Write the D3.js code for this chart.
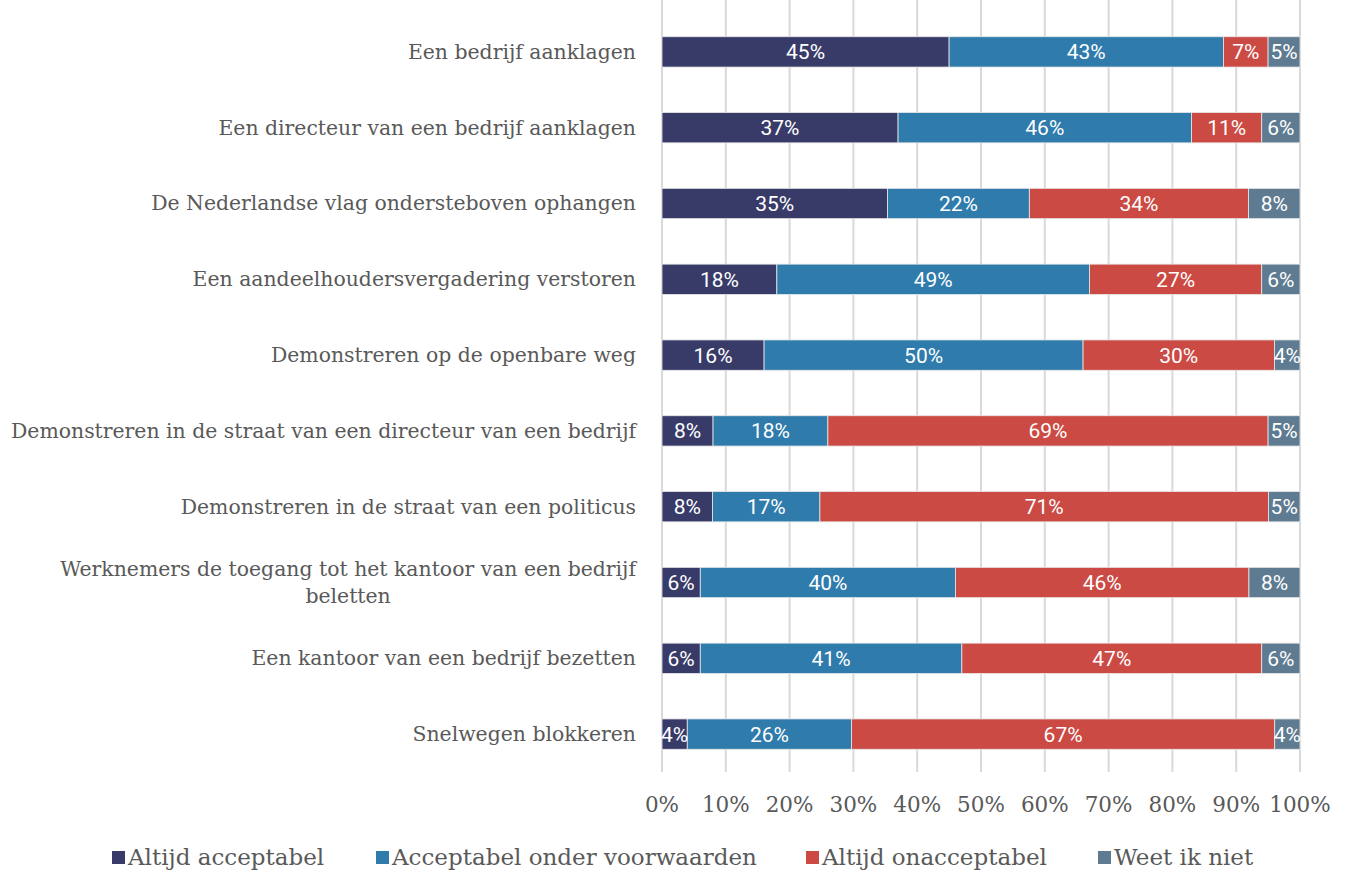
<!DOCTYPE html>
<html>
<head>
<meta charset="utf-8">
<script src="https://cdn.jsdelivr.net/npm/d3@7"></script>
<style>
  body { margin: 0; background: #fff; }
  svg { display: block; }
</style>
</head>
<body>
<svg class="chart"></svg>
<script>
var categories = [
    "Een bedrijf aanklagen",
    "Een directeur van een bedrijf aanklagen",
    "De Nederlandse vlag ondersteboven ophangen",
    "Een aandeelhoudersvergadering verstoren",
    "Demonstreren op de openbare weg",
    "Demonstreren in de straat van een directeur van een bedrijf",
    "Demonstreren in de straat van een politicus",
    "Werknemers de toegang tot het kantoor van een bedrijf|beletten",
    "Een kantoor van een bedrijf bezetten",
    "Snelwegen blokkeren"
];
var seriesNames = ["Altijd acceptabel", "Acceptabel onder voorwaarden", "Altijd onacceptabel", "Weet ik niet"];
var altijdAcceptabel = [45, 37, 35, 18, 16, 8, 8, 6, 6, 4];
var onderVoorwaarden = [43, 46, 22, 49, 50, 18, 17, 40, 41, 26];
var altijdOnacceptabel = [7, 11, 34, 27, 30, 69, 71, 46, 47, 67];
var weetIkNiet = [5, 6, 8, 6, 4, 5, 5, 8, 6, 4];
var tickValues = [0, 0.1, 0.2, 0.3, 0.4, 0.5, 0.6, 0.7, 0.8, 0.9, 1];
var colors = ["#383b68", "#2e7bac", "#cb4a43", "#5e7b91"];

(function show() {
    'use strict';
    var W = 1349, H = 870;
    var x0 = 662, x1 = 1300, yTop = 14, yBot = 772;

    var svg = d3.select(".chart").attr("width", W).attr("height", H);

    var rows = categories.map(function(c, i) {
        var vals = [altijdAcceptabel[i], onderVoorwaarden[i], altijdOnacceptabel[i], weetIkNiet[i]];
        var total = d3.sum(vals);
        var acc = 0;
        return {
            name: c,
            segs: vals.map(function(v, k) {
                var s = {k: k, v: v, a: acc / total, b: (acc + v) / total};
                acc += v;
                return s;
            })
        };
    });

    var x = d3.scaleLinear().domain([0, 1]).range([x0, x1]);
    var y = d3.scaleBand().domain(categories).range([yTop, yBot]).paddingInner(0.6).paddingOuter(0.3);

    // gridlines
    svg.append("g").selectAll("line")
        .data(tickValues)
        .enter().append("line")
        .attr("x1", function(d) { return x(d); })
        .attr("x2", function(d) { return x(d); })
        .attr("y1", 0).attr("y2", yBot)
        .attr("stroke", "#d9d9d9")
        .attr("stroke-width", 2);

    // tick labels
    svg.append("g").selectAll("text")
        .data(tickValues)
        .enter().append("text")
        .attr("x", function(d) { return x(d); })
        .attr("y", 812)
        .attr("text-anchor", "middle")
        .attr("font-family", "DejaVu Serif")
        .attr("font-size", 21.5)
        .attr("fill", "#595959")
        .text(d3.format(".0%"));

    var row = svg.append("g").selectAll("g")
        .data(rows)
        .enter().append("g")
        .attr("transform", function(d) { return "translate(0," + y(d.name) + ")"; });

    row.selectAll("rect")
        .data(function(d) { return d.segs; })
        .enter().append("rect")
        .attr("x", function(d) { return x(d.a); })
        .attr("width", function(d) { return x(d.b) - x(d.a); })
        .attr("y", 0)
        .attr("height", y.bandwidth())
        .attr("fill", function(d) { return colors[d.k]; })
        .attr("stroke", "#e8e8e8")
        .attr("stroke-width", 0.8);

    row.selectAll("text.val")
        .data(function(d) { return d.segs; })
        .enter().append("text")
        .attr("class", "val")
        .attr("x", function(d) { return (x(d.a) + x(d.b)) / 2; })
        .attr("y", y.bandwidth() / 2 + 7.5)
        .attr("text-anchor", "middle")
        .attr("font-family", "Roboto")
        .attr("font-size", 21)
        .attr("fill", "#fff")
        .text(function(d) { return d.v + "%"; });

    // category labels
    row.append("text")
        .attr("text-anchor", "end")
        .attr("font-family", "DejaVu Serif")
        .attr("font-size", 20.4)
        .attr("fill", "#595959")
        .each(function(d) {
            var parts = d.name.split("|");
            var t = d3.select(this);
            var cy = y.bandwidth() / 2 + 7 - (parts.length - 1) * 13.5;
            parts.forEach(function(p, i) {
                t.append("tspan").attr("x", 636).attr("y", cy + i * 27).text(p);
            });
        });

    // center second line of multi-line label under first
    row.each(function() {
        var tspans = d3.select(this).selectAll("tspan");
        if (tspans.size() > 1) {
            var w = tspans.nodes()[0].getComputedTextLength();
            tspans.filter(function(dd, i) { return i > 0; })
                .attr("x", 636 - w / 2)
                .attr("text-anchor", "middle");
        }
    });

    // legend
    var legendX = [112, 376, 806, 1098];
    var lg = svg.append("g").selectAll("g")
        .data(seriesNames)
        .enter().append("g")
        .attr("transform", function(d, i) { return "translate(" + legendX[i] + ",857)"; });
    lg.append("rect")
        .attr("x", 0).attr("y", -6)
        .attr("width", 13).attr("height", 13)
        .attr("fill", function(d, i) { return colors[i]; });
    lg.append("text")
        .attr("x", 16).attr("y", 8)
        .attr("font-family", "DejaVu Serif")
        .attr("font-size", 23)
        .attr("fill", "#595959")
        .text(function(d) { return d; });
})();
</script>
</body>
</html>
